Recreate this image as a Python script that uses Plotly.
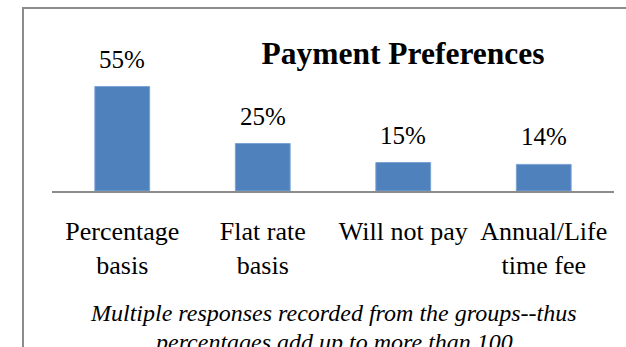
import plotly.graph_objects as go

# Survey data: share of groups preferring each payment model
categories = ["Percentage basis", "Flat rate basis", "Will not pay", "Annual/Life time fee"]
tick_labels = ["Percentage<br>basis", "Flat rate<br>basis", "Will not pay", "Annual/Life<br>time fee"]
shares = [55, 25, 15, 14]
value_labels = ["55%", "25%", "15%", "14%"]
footnote_lines = [
    "Multiple responses recorded from the groups--thus",
    "percentages add up to more than 100",
]

SERIF = "Liberation Serif, Times New Roman, serif"
W, H = 626, 347
L, R, T, B = 52, 12, 77, 156

def px_x(px):
    return (px - L) / (W - L - R)

def px_y(py):
    return (H - B - py) / (H - T - B)

fig = go.Figure()
fig.add_trace(go.Bar(
    x=categories,
    y=shares,
    width=0.39,
    marker=dict(color="#4F81BD", line=dict(color="#7BA3D4", width=1)),
    hoverinfo="skip",
))

for cat, val, lab in zip(categories, shares, value_labels):
    fig.add_annotation(
        x=cat, y=val, text=lab, showarrow=False,
        yanchor="bottom", yshift=12,
        font=dict(family=SERIF, size=25, color="#000000"),
    )

# footnote below the category labels, one annotation per line
for i, line in enumerate(footnote_lines):
    fig.add_annotation(
        xref="paper", yref="paper",
        x=px_x(333), y=px_y(298 + 29 * i),
        xanchor="center", yanchor="top",
        text=f"<i>{line}</i>",
        showarrow=False,
        font=dict(family=SERIF, size=24, color="#000000"),
    )

# chart border
fig.add_shape(
    type="rect", xref="paper", yref="paper",
    x0=px_x(23), x1=px_x(660), y0=px_y(380), y1=px_y(8),
    line=dict(color="#8C8C8C", width=2),
    fillcolor="rgba(0,0,0,0)", layer="below",
)

fig.update_layout(
    width=W, height=H,
    margin=dict(l=L, r=R, t=T, b=B, pad=0),
    paper_bgcolor="#FFFFFF",
    plot_bgcolor="#FFFFFF",
    showlegend=False,
    title=dict(
        text="<b>Payment Preferences</b>",
        x=403 / W, xanchor="center",
        y=1 - 53 / H, yanchor="middle",
        font=dict(family=SERIF, size=31.5, color="#000000"),
    ),
    xaxis=dict(
        tickmode="array", tickvals=categories, ticktext=tick_labels,
        showline=True, linecolor="#8C8C8C", linewidth=2,
        ticks="", showgrid=False, zeroline=False,
        ticklabelstandoff=16,
        tickfont=dict(family=SERIF, size=26, color="#000000"),
    ),
    yaxis=dict(
        range=[0, 60], visible=False, showgrid=False, zeroline=False,
    ),
)

fig.write_html("out.html")
